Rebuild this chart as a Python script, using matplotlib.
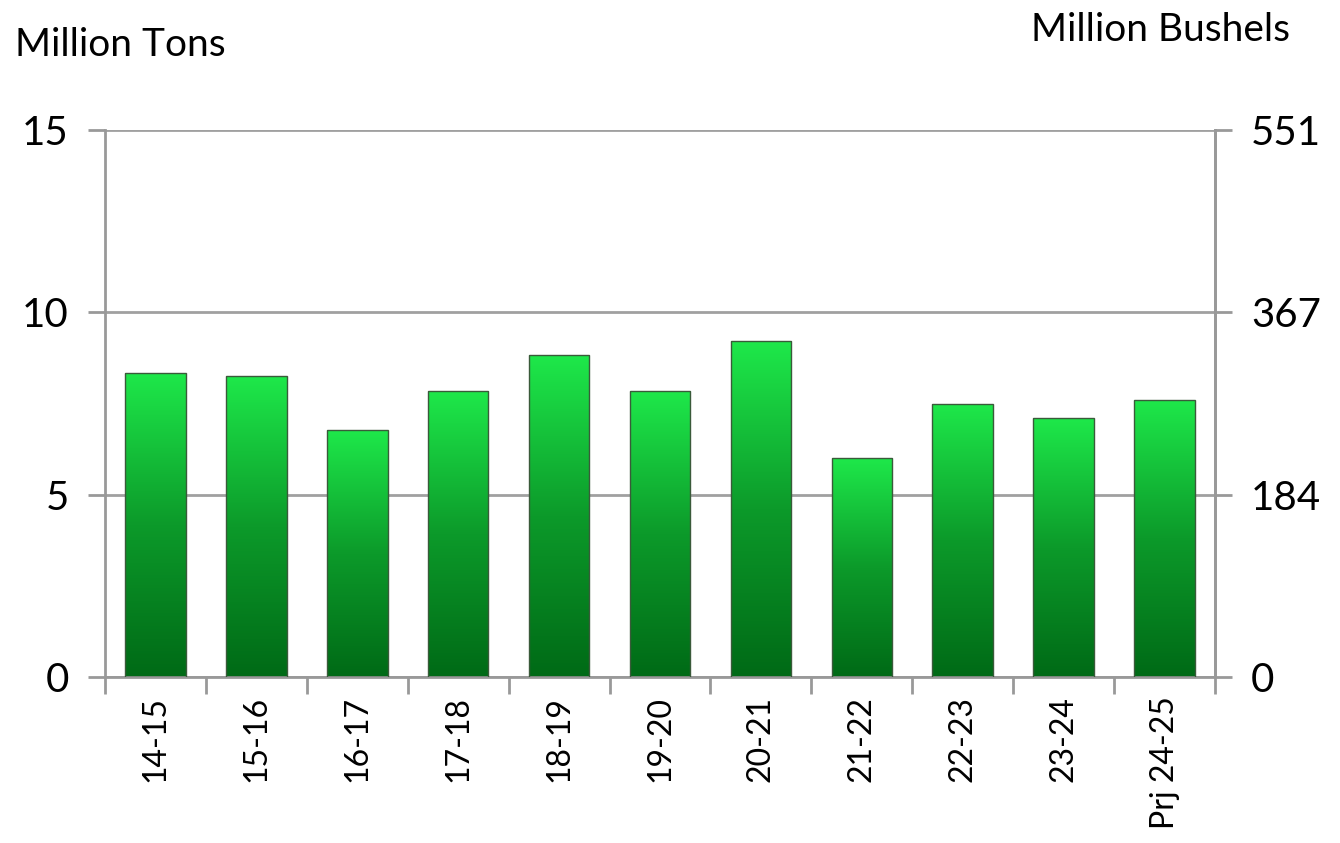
import matplotlib.pyplot as plt
import numpy as np
from matplotlib.colors import LinearSegmentedColormap
from matplotlib.patches import Rectangle

# Data
years = ['14-15', '15-16', '16-17', '17-18', '18-19', '19-20', '20-21',
         '21-22', '22-23', '23-24', 'Prj 24-25']
tons = [8.34, 8.25, 6.77, 7.84, 8.83, 7.84, 9.21, 6.00, 7.49, 7.10, 7.60]
left_ticks = [0, 5, 10, 15]
right_labels = ['0', '184', '367', '551']

plt.rcParams['font.family'] = ['Lato', 'DejaVu Sans']

fig = plt.figure(figsize=(13.4, 8.43), dpi=100)
ax = fig.add_axes([0.0784, 0.197, 0.8283, 0.6488])

x = np.arange(len(years))
bars = ax.bar(x, tons, width=0.6, color='none', edgecolor='#3a5a3a',
              linewidth=1.0, zorder=3)

# green gradient inside each bar
cmap = LinearSegmentedColormap.from_list('g', ['#006a16', '#0c9a2a', '#1ee84a'])
grad = np.linspace(0, 1, 256).reshape(-1, 1)
for b in bars:
    bx, by = b.get_x(), b.get_y()
    w, h = b.get_width(), b.get_height()
    im = ax.imshow(grad, cmap=cmap, origin='lower', aspect='auto',
                   extent=[bx, bx + w, by, by + h], zorder=2)
    im.set_clip_path(Rectangle((bx, by), w, h, transform=ax.transData))

ax.set_xlim(-0.5, len(years) - 0.5)
ax.set_ylim(0, 15)
ax.set_yticks(left_ticks)
ax.set_yticklabels([str(t) for t in left_ticks], fontsize=29)
ax.set_xticks(x)
ax.set_xticklabels(years, rotation=90, fontsize=23)
ax.set_xticks(np.arange(-0.5, len(years)), minor=True)
ax.tick_params(axis='x', which='major', length=0, pad=14)
ax.tick_params(axis='x', which='minor', length=12, color='#999999', width=2)
ax.tick_params(axis='y', length=12, color='#999999', width=2, pad=14)
ax.grid(axis='y', color='#a0a0a0', linewidth=2, zorder=1)
for s in ax.spines.values():
    s.set_color('#999999')
    s.set_linewidth(2)
ax.spines['top'].set_visible(False)

ax2 = ax.twinx()
ax2.set_ylim(0, 15)
ax2.set_yticks(left_ticks)
ax2.set_yticklabels(right_labels, fontsize=29)
ax2.tick_params(axis='y', length=12, color='#999999', width=2, pad=14)
for s in ax2.spines.values():
    s.set_visible(False)
ax2.spines['right'].set_visible(True)
ax2.spines['right'].set_color('#999999')
ax2.spines['right'].set_linewidth(2)

fig.text(0.011, 0.947, 'Million Tons', fontsize=28, va='center', ha='left')
fig.text(0.963, 0.964, 'Million Bushels', fontsize=28, va='center', ha='right')

fig.savefig('out.png', dpi=100)
